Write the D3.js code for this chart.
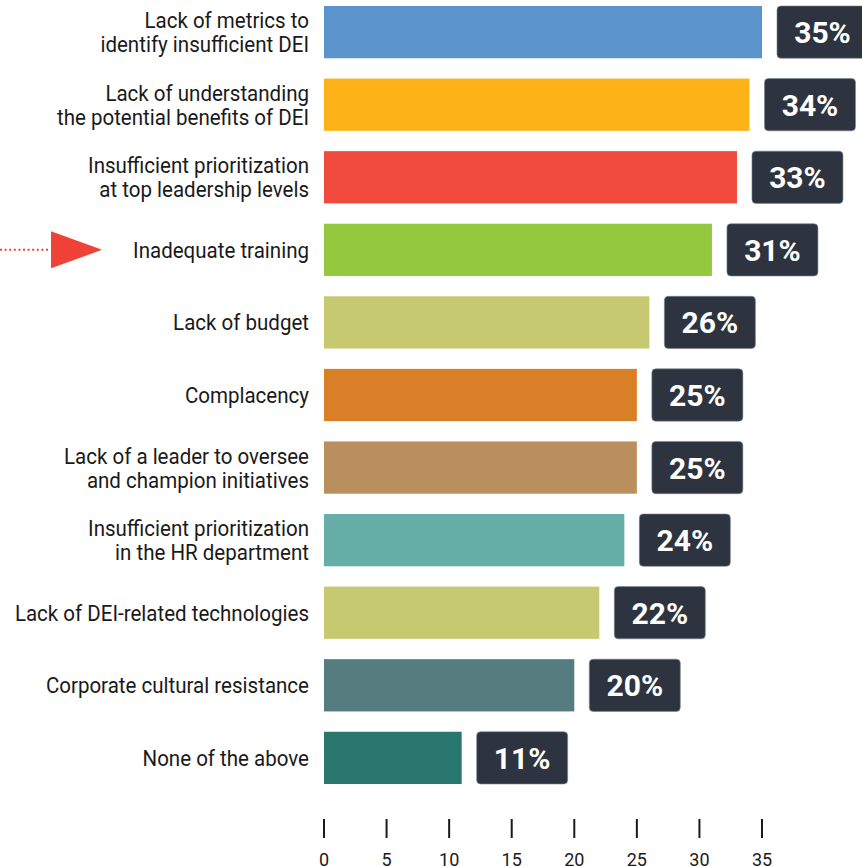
<!DOCTYPE html>
<html>
<head>
<meta charset="utf-8">
<script src="https://cdn.jsdelivr.net/npm/d3@7"></script>
<style>
	html, body { margin: 0; padding: 0; background: white; }
	#outer { width: 862px; height: 866px; }
</style>
</head>
<body>
<div id="outer"></div>
<script>

////////// Data //////////
const categories = [
	['Lack of metrics to', 'identify insufficient DEI'],
	['Lack of understanding', 'the potential benefits of DEI'],
	['Insufficient prioritization', 'at top leadership levels'],
	['Inadequate training'],
	['Lack of budget'],
	['Complacency'],
	['Lack of a leader to oversee', 'and champion initiatives'],
	['Insufficient prioritization', 'in the HR department'],
	['Lack of DEI-related technologies'],
	['Corporate cultural resistance'],
	['None of the above']
];
const values = [35, 34, 33, 31, 26, 25, 25, 24, 22, 20, 11];
const barColors = ['#5b93cd', '#fdb218', '#f04b3d', '#94c83e', '#c6c970', '#d97f28', '#b98f5d', '#66afa9', '#c6c970', '#557c7e', '#2a776f'];
const tickValues = [0, 5, 10, 15, 20, 25, 30, 35];
const highlightIndex = 3;


function drawChart () {

	////////// Hard Coded Defs //////////
	const width = 862;
	const height = 866;
	const labelFont = '22px Roboto';
	const boxFont = 'bold 30px Roboto';
	const tickFont = '18px Roboto';
	const textColor = '#1a1a1a';
	const boxColor = '#2d3440';
	const arrowColor = '#ef4136';
	const labelRight = 309;
	const labelSquash = 0.933;
	const lineHeight = 24;
	const boxGap = 15;
	const boxWidth = 91;


	////////////////////////////////////////////////////////////////
		// Scales
	////////////////////////////////////////////////////////////////
	const x = d3.scaleLinear()
		.domain([0, 35])
		.range([324, 762]);

	const y = d3.scaleBand()
		.domain(d3.range(values.length))
		.range([6, 784])
		.paddingInner(0.28)
		.paddingOuter(0);


	////////////////////////////////////////////////////////////////
		// Draw
	////////////////////////////////////////////////////////////////
	const svg = d3.select('#outer').append('svg')
		.attr('width', width)
		.attr('height', height)
		.style('overflow', 'hidden')
		.style('display', 'block');

	const rows = svg.append('g').attr('class', 'rows')
		.selectAll('g')
		.data(values)
		.join('g')
			.attr('transform', (d, i) => `translate(0, ${y(i)})`);

	// bars
	rows.append('rect')
		.attr('x', x(0))
		.attr('width', d => x(d) - x(0))
		.attr('height', y.bandwidth())
		.attr('fill', (d, i) => barColors[i]);

	// value boxes
	rows.append('rect')
		.attr('x', d => x(d) + boxGap)
		.attr('width', boxWidth)
		.attr('height', y.bandwidth())
		.attr('rx', 4)
		.attr('ry', 4)
		.attr('fill', boxColor)
		.attr('stroke', '#7c838d')
		.attr('stroke-width', 0.6);

	rows.append('text')
		.text(d => d + '%')
		.attr('x', d => x(d) + boxGap + boxWidth / 2)
		.attr('y', y.bandwidth() / 2 + 11)
		.attr('text-anchor', 'middle')
		.attr('fill', 'white')
		.style('font', boxFont);

	// category labels
	const labels = rows.append('g')
		.attr('transform', `translate(${labelRight}, ${y.bandwidth() / 2 + 8}) scale(${labelSquash}, 1)`)
		.append('text')
		.attr('text-anchor', 'end')
		.attr('fill', textColor)
		.style('font', labelFont);

	labels.selectAll('tspan')
		.data((d, i) => categories[i].map((line, j, arr) => ({line, dy: (j - (arr.length - 1) / 2) * lineHeight})))
		.join('tspan')
			.attr('x', 0)
			.attr('y', t => t.dy)
			.text(t => t.line);

	// ********************************************* AXIS ******************************************************* //
	const axis = svg.append('g').attr('class', 'axis')
		.attr('transform', 'translate(0, 819)');

	axis.selectAll('line')
		.data(tickValues)
		.join('line')
			.attr('x1', d => x(d))
			.attr('x2', d => x(d))
			.attr('y1', 0)
			.attr('y2', 19)
			.attr('stroke', textColor)
			.attr('stroke-width', 2);

	axis.selectAll('text')
		.data(tickValues)
		.join('text')
			.text(d => d)
			.attr('x', d => x(d))
			.attr('y', 47)
			.attr('text-anchor', 'middle')
			.attr('fill', textColor)
			.style('font', tickFont);

	// ********************************************* ARROW ******************************************************* //
	const arrowY = y(highlightIndex) + y.bandwidth() / 2;
	const arrow = svg.append('g').attr('class', 'arrow');

	arrow.append('line')
		.attr('x1', 0)
		.attr('x2', 50)
		.attr('y1', arrowY)
		.attr('y2', arrowY)
		.attr('stroke', arrowColor)
		.attr('stroke-width', 2)
		.attr('stroke-dasharray', '2,2.6');

	arrow.append('path')
		.attr('d', `M51,${arrowY - 18.5}L102,${arrowY}L51,${arrowY + 18.5}Z`)
		.attr('fill', arrowColor);
}

drawChart();

</script>
</body>
</html>
